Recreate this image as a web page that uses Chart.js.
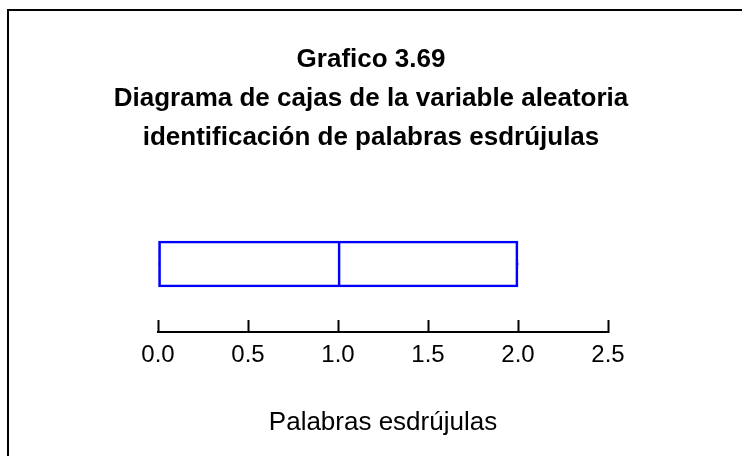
<!DOCTYPE html>
<html>
<head>
<meta charset="utf-8">
<script src="https://cdn.jsdelivr.net/npm/chart.js@4.4.1/dist/chart.umd.min.js"></script>
<style>
  html, body { margin: 0; padding: 0; background: #fff; }
  #wrap { position: relative; width: 742px; height: 456px; overflow: hidden; }
  #frame { position: absolute; left: 7px; top: 9px; width: 800px; height: 500px;
           border-left: 2px solid #000; border-top: 2px solid #000; pointer-events: none; }
</style>
</head>
<body>
<div id="wrap">
  <canvas id="myChart" width="742" height="456"></canvas>
  <div id="frame"></div>
</div>
<script>
  // datos del diagrama de cajas
  let categories = ["Palabras esdrújulas"];
  let minVal = [0];
  let q1Val = [0];
  let medianVal = [1];
  let q3Val = [2];
  let maxVal = [2];
  let xTicks = [0.0, 0.5, 1.0, 1.5, 2.0, 2.5];

  let titleLines = [
    "Grafico 3.69",
    "Diagrama de cajas de la variable aleatoria",
    "identificación de palabras esdrújulas"
  ];

  let blue = "#0000ff";
  let fontName = "'Liberation Sans', Arial, sans-serif";

  let lower = categories.map((c, i) => [q1Val[i], medianVal[i]]);
  let upper = categories.map((c, i) => [medianVal[i], q3Val[i]]);
  let whiskLow = categories.map((c, i) => [minVal[i], q1Val[i]]);
  let whiskHigh = categories.map((c, i) => [q3Val[i], maxVal[i]]);

  // ejes "vacios" solo para dejar el espacio a los lados
  let spacer = (w, pos) => ({
    type: "category",
    position: pos,
    display: true,
    grid: { display: false },
    border: { display: false },
    ticks: { display: false },
    afterFit: (scale) => {
      scale.width = w;
    },
  });

  let ctx = document.getElementById("myChart").getContext("2d");
  let chart = new Chart(ctx, {
    type: "bar",
    data: {
      labels: categories,
      datasets: [
        {
          data: lower,
          backgroundColor: "rgba(0,0,0,0)",
          borderColor: blue,
          borderWidth: 2,
          borderSkipped: "end",
          barThickness: 46,
          grouped: false,
        },
        {
          data: upper,
          backgroundColor: "rgba(0,0,0,0)",
          borderColor: blue,
          borderWidth: 2,
          borderSkipped: false,
          barThickness: 46,
          grouped: false,
        },
        {
          data: whiskLow,
          backgroundColor: blue,
          borderWidth: 0,
          barThickness: 2,
          grouped: false,
        },
        {
          data: whiskHigh,
          backgroundColor: blue,
          borderWidth: 0,
          barThickness: 2,
          grouped: false,
        },
      ],
    },
    options: {
      indexAxis: "y",
      responsive: false,
      animation: false,
      layout: { padding: 0 },
      plugins: {
        legend: { display: false },
        tooltip: { enabled: false },
        title: {
          display: true,
          text: titleLines,
          color: "#000",
          font: { family: fontName, size: 26, weight: "bold", lineHeight: 1.5 },
          padding: { top: 40, bottom: 39 },
        },
      },
      scales: {
        x: {
          min: xTicks[0],
          max: xTicks[xTicks.length - 1],
          afterBuildTicks: (scale) => {
            scale.ticks = xTicks.map((v) => ({ value: v }));
          },
          grid: {
            drawOnChartArea: false,
            drawTicks: true,
            tickLength: -12,
            tickWidth: 2,
            tickColor: "#000",
          },
          border: { display: true, color: "#000", width: 2 },
          ticks: {
            color: "#000",
            padding: 21,
            font: { family: fontName, size: 24 },
            callback: (v) => Number(v).toFixed(1),
          },
          title: {
            display: true,
            text: categories[0],
            color: "#000",
            font: { family: fontName, size: 26, lineHeight: 1.2 },
            padding: { top: 16.6, bottom: 17.4 },
          },
        },
        y: spacer(158, "left"),
        yRight: spacer(134, "right"),
      },
    },
  });
</script>
</body>
</html>
